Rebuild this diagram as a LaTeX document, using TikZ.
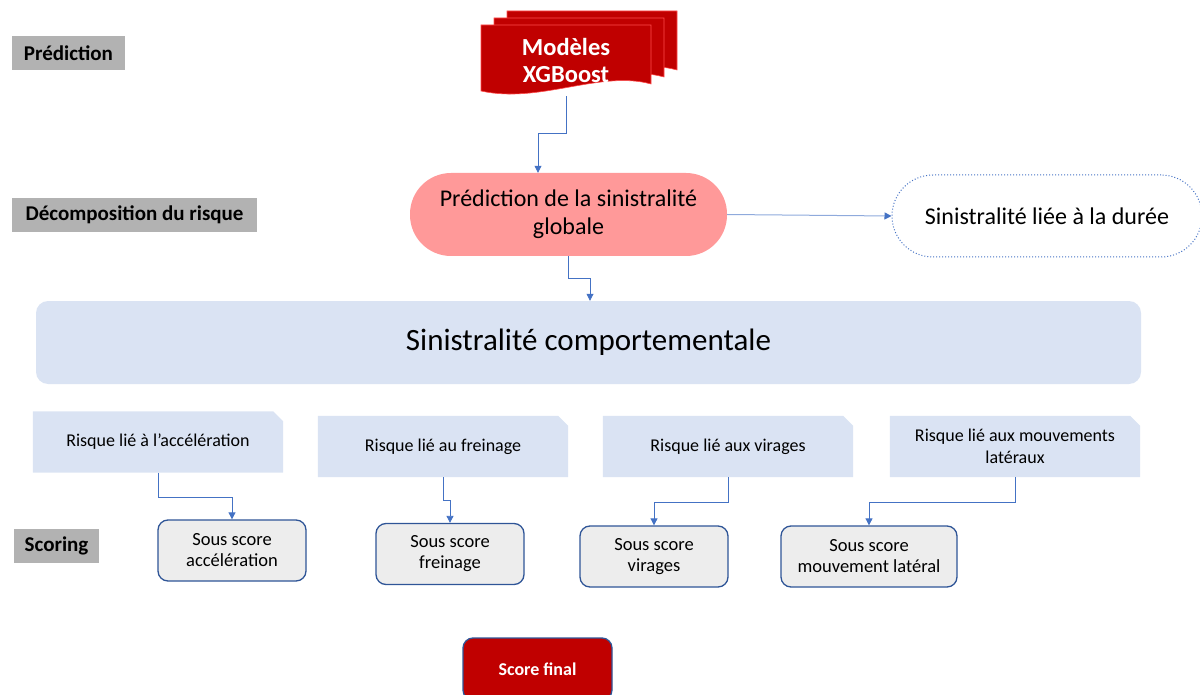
\documentclass[tikz,border=0pt]{standalone}
\usepackage{fontspec}
\setmainfont{Carlito}
\usetikzlibrary{arrows.meta,backgrounds,calc}
\definecolor{cblue}{HTML}{4472C4}
\definecolor{lblue}{HTML}{8FAADC}
\definecolor{dblue}{HTML}{2F5597}
\definecolor{xred}{HTML}{C00000}
\definecolor{pink}{HTML}{FF9999}
\definecolor{pale}{HTML}{DAE3F3}
\definecolor{lgray}{HTML}{EDEDED}
\tikzset{
  conn/.style={draw=cblue, line width=0.8pt, -{Triangle[length=7pt,width=7pt]}},
  connl/.style={draw=lblue, line width=1pt, -{Triangle[length=7pt,width=7pt,fill=cblue,color=cblue]}},
  lab/.style={fill=gray!60, font=\bfseries\fontsize{21}{24}\selectfont, inner sep=0pt, minimum height=34pt},
  pill/.style={inner sep=0pt, align=center},
  riskbox/.style={inner sep=0pt, align=center, font=\fontsize{18}{22}\selectfont, minimum width=250pt, minimum height=61pt},
  subbox/.style={draw=dblue, line width=1.3pt, fill=lgray, rounded corners=10pt, inner sep=0pt, align=center, font=\fontsize{18.5}{21}\selectfont, minimum height=61pt},
}
\begin{document}
\begin{tikzpicture}[x=1pt,y=-1pt]
\useasboundingbox (0,0) rectangle (1200,695);
\clip (0,0) rectangle (1200,695);

% stage labels
\node[lab, minimum width=113pt] (l1) at (68.5,53.5) {Prédiction};
\node[lab, minimum width=245pt] (l2) at (134.5,215) {Décomposition du risque};
\node[lab, minimum width=85pt] (l3) at (56.5,546) {Scoring};

% multidocument
\foreach \dx/\dy in {26/-14, 13/-7, 0/0}{
  \filldraw[fill=xred, draw=red!70!white, line width=0.6pt]
    (481+\dx,25+\dy) -- (651+\dx,25+\dy) -- (651+\dx,84+\dy)
    .. controls (600+\dx,70+\dy) and (540+\dx,104+\dy) .. (481+\dx,91+\dy) -- cycle;
}
\node[text=white, font=\bfseries\fontsize{24.5}{27}\selectfont, align=center, minimum width=170pt, minimum height=72pt, inner sep=0pt] (xg) at (566,60) {Modèles\\XGBoost};

% global prediction
\node[pill, fill=pink, rounded corners=41pt, minimum width=317pt, minimum height=83pt, font=\fontsize{24}{28}\selectfont] (pred) at (568.5,214.5) {\raisebox{-2pt}{Prédiction de la sinistralité}\\\raisebox{-2pt}{globale}};

% duration
\node[pill, draw=cblue, dotted, line width=1pt, rounded corners=41pt, minimum width=310pt, minimum height=82pt, font=\fontsize{24}{28}\selectfont] (dur) at (1047,216) {Sinistralité liée à la durée};

% behavioural
\node[pill, fill=pale, rounded corners=12pt, minimum width=1105pt, minimum height=83pt, font=\fontsize{31}{36}\selectfont] (comp) at (588.5,342.5) {\raisebox{-3pt}{Sinistralité comportementale}};

% risk boxes
\node[riskbox] (r1) at (158,442) {Risque lié à l’accélération};
\node[riskbox] (r2) at (443,446.5) {Risque lié au freinage};
\node[riskbox] (r3) at (728,446.5) {Risque lié aux virages};
\node[riskbox] (r4) at (1015,446.5) {Risque lié aux mouvements\\latéraux};
\begin{scope}[on background layer]
\foreach \r in {r1,r2,r3,r4}{
  \fill[pale] (\r.south west) -- (\r.north west) -- ([xshift=-10pt]\r.north east)
    -- ([yshift=-10pt]\r.north east) -- (\r.south east) -- cycle;
}
\end{scope}

% sub scores
\node[subbox, minimum width=148pt] (s1) at (232,550.5) {Sous score\\accélération};
\node[subbox, minimum width=148pt] (s2) at (450,554) {Sous score\\freinage};
\node[subbox, minimum width=148pt] (s3) at (654,556.5) {Sous score\\virages};
\node[subbox, minimum width=176pt] (s4) at (869,556.5) {Sous score\\mouvement latéral};

% final score
\node[draw=dblue, line width=1.3pt, fill=xred, rounded corners=10pt, text=white, font=\bfseries\fontsize{18}{20}\selectfont, minimum width=149pt, minimum height=62pt, inner sep=0pt] (sf) at (537.5,669) {Score final};

% connectors
\draw[conn] (xg.south) -- ++(0,37) -| ([xshift=-30.5pt]pred.north);
\draw[connl] (pred.east) -- (dur.west);
\draw[conn] (pred.south) -- ++(0,22) -| ([xshift=1.5pt]comp.north);
\draw[conn] (r1.south) -- ++(0,25) -| (s1.north);
\draw[conn] (r2.south) -- ++(0,23) -| (s2.north);
\draw[conn] (r3.south) -- ++(0,25) -| (s3.north);
\draw[conn] (r4.south) -- ++(0,25) -| (s4.north);
\end{tikzpicture}
\end{document}
